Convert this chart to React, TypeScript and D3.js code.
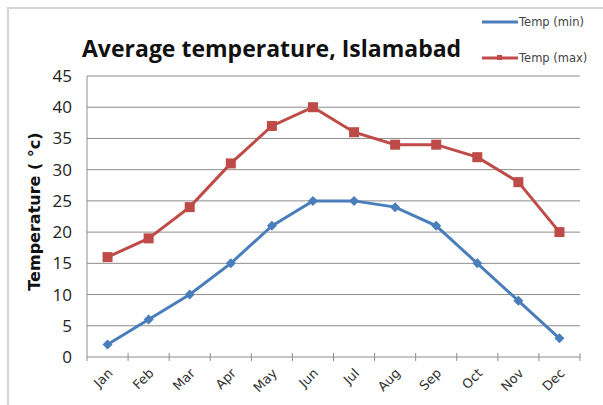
import React from 'react';
import * as d3 from 'd3';

const months = ['Jan', 'Feb', 'Mar', 'Apr', 'May', 'Jun', 'Jul', 'Aug', 'Sep', 'Oct', 'Nov', 'Dec'];
const tempMin = [2, 6, 10, 15, 21, 25, 25, 24, 21, 15, 9, 3];
const tempMax = [16, 19, 24, 31, 37, 40, 36, 34, 34, 32, 28, 20];
const yTicks = [0, 5, 10, 15, 20, 25, 30, 35, 40, 45];

const BLUE = '#4a7ebb';
const RED = '#be4b48';
const FONT = 'Open Sans, DejaVu Sans, sans-serif';
const WIDE = 'DejaVu Sans, Verdana, sans-serif';

const App: React.FC = () => {
  const width = 603;
  const height = 405;
  const left = 87;
  const right = 580;
  const top = 76;
  const bottom = 357;

  const x = d3.scaleBand<string>().domain(months).range([left, right]);
  const y = d3.scaleLinear().domain([0, 45]).range([bottom, top]);
  const cx = (m: string) => (x(m) || 0) + x.bandwidth() / 2;

  const line = d3.line<number>()
    .x((_, i) => cx(months[i]))
    .y(d => y(d));

  return (
    <svg width={width} height={height} style={{ position: 'absolute', left: 0, top: 0, background: '#fff' }}>
      {/* chart frame */}
      <rect x={8} y={8} width={605} height={410} fill="#fff" stroke="#d4d4d4" strokeWidth={2} />

      <text x={82} y={57} fontFamily={FONT} fontWeight="bold" fontSize={23} fill="#111">
        Average temperature, Islamabad
      </text>

      {/* gridlines */}
      {yTicks.filter(t => t > 0).map(t => (
        <line key={t} x1={left} x2={right} y1={y(t)} y2={y(t)} stroke="#8c8c8c" strokeWidth={1} />
      ))}

      {/* y axis */}
      <line x1={left} x2={left} y1={top} y2={bottom} stroke="#8c8c8c" />
      {yTicks.map(t => (
        <text key={t} x={left - 15} y={y(t) + 6} textAnchor="end" fontFamily={FONT} fontSize={17} fill="#222">
          {t}
        </text>
      ))}
      <text
        transform={`translate(40, ${(top + bottom) / 2 - 5}) rotate(-90)`}
        textAnchor="middle"
        fontFamily={WIDE}
        fontWeight="bold"
        fontSize={16}
        fill="#111"
      >
        Temperature ( °c)
      </text>

      {/* x axis */}
      <line x1={left} x2={right} y1={bottom} y2={bottom} stroke="#8c8c8c" />
      {months.map(m => (
        <line key={m} x1={(x(m) || 0) + x.bandwidth()} x2={(x(m) || 0) + x.bandwidth()} y1={bottom - 4} y2={bottom + 4} stroke="#8c8c8c" />
      ))}
      <line x1={left} x2={left} y1={bottom} y2={bottom + 4} stroke="#8c8c8c" />
      {months.map(m => (
        <text
          key={m}
          transform={`translate(${cx(m) + 6}, ${bottom + 17}) rotate(-45)`}
          textAnchor="end"
          fontFamily={WIDE}
          fontSize={13}
          fill="#333"
        >
          {m}
        </text>
      ))}

      {/* series */}
      <path d={line(tempMin) || ''} fill="none" stroke={BLUE} strokeWidth={3} />
      {tempMin.map((v, i) => {
        const px = cx(months[i]);
        const py = y(v);
        return (
          <path key={i} d={`M${px},${py - 5}L${px + 5},${py}L${px},${py + 5}L${px - 5},${py}Z`} fill={BLUE} />
        );
      })}
      <path d={line(tempMax) || ''} fill="none" stroke={RED} strokeWidth={3} />
      {tempMax.map((v, i) => (
        <rect key={i} x={cx(months[i]) - 5} y={y(v) - 5} width={10} height={10} fill={RED} />
      ))}

      {/* legend */}
      <line x1={482} x2={518} y1={22} y2={22} stroke={BLUE} strokeWidth={3} />
      <text x={519} y={26} fontFamily={WIDE} fontSize={11.5} fill="#444">Temp (min)</text>
      <line x1={482} x2={518} y1={58} y2={58} stroke={RED} strokeWidth={3} />
      <rect x={497} y={55} width={5} height={5} fill={RED} />
      <text x={519} y={62} fontFamily={WIDE} fontSize={11.5} fill="#444">Temp (max)</text>
    </svg>
  );
};

export default App;
